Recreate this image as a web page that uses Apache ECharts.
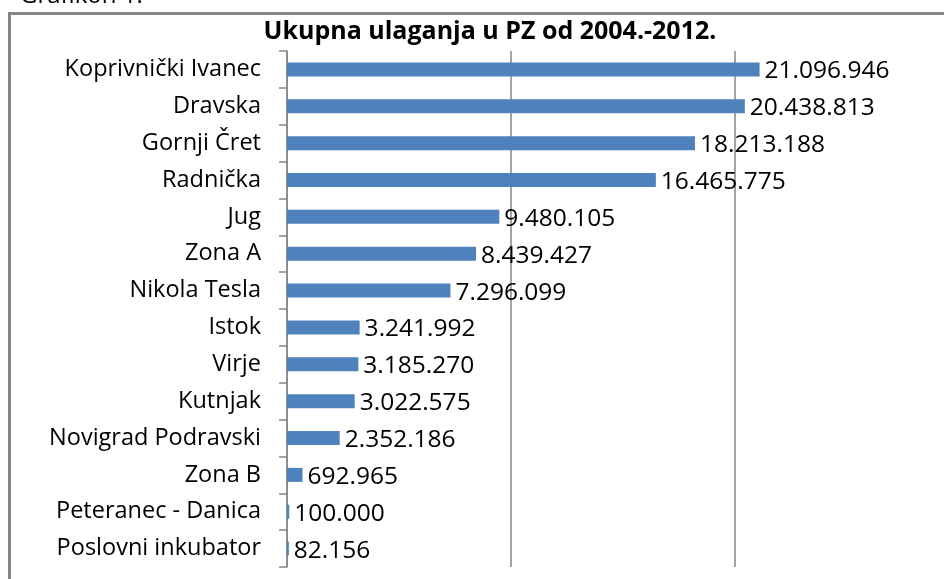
<!DOCTYPE html>
<html>
<head>
<meta charset="utf-8">
<script src="https://cdn.jsdelivr.net/npm/echarts@6/dist/echarts.min.js"></script>
<style>
html,body{margin:0;padding:0;background:#fff;}
#c{width:944px;height:579px;}
</style>
</head>
<body>
<div id="c"></div>
<script>
const categories = ["Koprivnički Ivanec","Dravska","Gornji Čret","Radnička","Jug","Zona A","Nikola Tesla","Istok","Virje","Kutnjak","Novigrad Podravski","Zona B","Peteranec - Danica","Poslovni inkubator"];
const values = [21096946,20438813,18213188,16465775,9480105,8439427,7296099,3241992,3185270,3022575,2352186,692965,100000,82156];
const titleText = "Ukupna ulaganja u PZ od 2004.-2012.";
const captionText = "Grafikon 1.";

function fmt(v){ return String(v).replace(/\B(?=(\d{3})+(?!\d))/g, "."); }

const FONT = "Open Sans";
const chart = echarts.init(document.getElementById('c'), null, {renderer:'canvas'});
chart.setOption({
  animation:false,
  backgroundColor:'#ffffff',
  title:{
    text:titleText, left:485, top:14, textAlign:'center',
    textStyle:{fontFamily:FONT,fontWeight:'bold',fontSize:25,color:'#000'}
  },
  graphic:[
    {type:'rect', shape:{x:9.5,y:13.5,width:1000,height:700}, style:{fill:'none',stroke:'#868686',lineWidth:3}, silent:true},
    {type:'text', x:20, y:8, style:{text:captionText, font:'24px "Open Sans"', fill:'#000', textVerticalAlign:'bottom'}, silent:true}
  ],
  grid:{left:287, top:51, bottom:12, right:-15, containLabel:false, outerBoundsMode:'none'},
  xAxis:{
    type:'value', min:0, max:30000000, interval:10000000,
    axisLine:{show:false}, axisTick:{show:false}, axisLabel:{show:false},
    splitLine:{show:true, lineStyle:{color:'#868686', width:1.5}}
  },
  yAxis:{
    type:'category', data:categories, inverse:true,
    axisLine:{show:true, lineStyle:{color:'#868686', width:1.5}},
    axisTick:{show:true, length:8, inside:false, lineStyle:{color:'#868686', width:1.5}},
    axisLabel:{fontFamily:FONT, fontSize:23.5, color:'#000', margin:26},
    splitLine:{show:false}
  },
  series:[{
    type:'bar', data:values, barWidth:14,
    itemStyle:{color:'#4f81bd'},
    label:{show:true, position:'right', distance:5, offset:[0,2], formatter:p=>fmt(p.value),
      fontFamily:FONT, fontSize:24.5, color:'#000'}
  }]
});
</script>
</body>
</html>
